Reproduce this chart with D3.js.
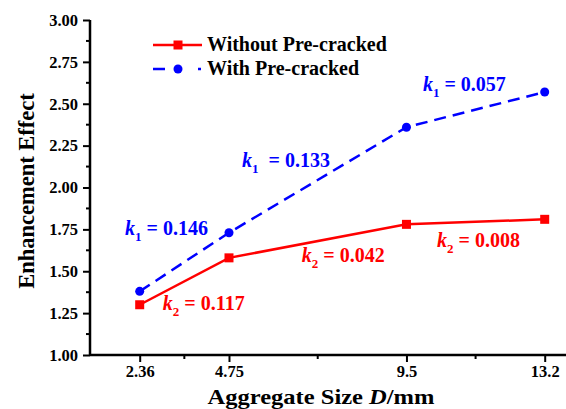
<!DOCTYPE html>
<html><head><meta charset="utf-8">
<script src="https://cdn.jsdelivr.net/npm/d3@7"></script>
<style>body{margin:0;background:#fff}svg{display:block}</style>
</head><body>
<svg id="c" width="566" height="409" font-family="Liberation Serif" font-weight="bold"></svg>
<script>
const sizes = [2.36, 4.75, 9.5, 13.2];
const withoutPre = [1.30, 1.58, 1.78, 1.81];
const withPre = [1.38, 1.73, 2.36, 2.57];
const xMinor = [3.555, 7.125, 11.35];
const yTicks = [1.00, 1.25, 1.50, 1.75, 2.00, 2.25, 2.50, 2.75, 3.00];
const seriesNames = ["Without Pre-cracked", "With Pre-cracked"];
const annotK1 = [{v:"0.146", x:1.97, y:1.716, sp:false},{v:"0.133", x:5.10, y:2.122, sp:true},{v:"0.057", x:9.94, y:2.576, sp:false}];
const annotK2 = [{v:"0.117", x:2.98, y:1.269, sp:false},{v:"0.042", x:6.70, y:1.555, sp:false},{v:"0.008", x:10.32, y:1.645, sp:false}];

const svg = d3.select("#c");
const L=90, T=20, B=355, R=566;
const x = d3.scaleLinear().domain([1.03, 13.77]).range([L, R]);
const y = d3.scaleLinear().domain([1, 3]).range([B, T]);
const RED="#ff0000", BLUE="#0000ff";
const FF="Liberation Serif";

const yAxis = d3.axisLeft(y).tickValues(yTicks).tickFormat(d3.format(".2f")).tickSize(7).tickPadding(5);
const gy = svg.append("g").attr("transform",`translate(${L},0)`).call(yAxis);
const yMinor = d3.range(1.125, 3, 0.25);
gy.selectAll(".minor").data(yMinor).enter().append("line").attr("class","minor")
  .attr("x1",0).attr("x2",-4).attr("y1",d=>y(d)).attr("y2",d=>y(d)).attr("stroke","#000").attr("stroke-width",2);
const xAxis = d3.axisBottom(x).tickValues(sizes).tickFormat(d=>String(d)).tickSize(7).tickPadding(3);
const gx = svg.append("g").attr("transform",`translate(0,${B})`).call(xAxis);
gx.selectAll(".minor").data(xMinor).enter().append("line").attr("class","minor")
  .attr("y1",0).attr("y2",4).attr("x1",d=>x(d)).attr("x2",d=>x(d)).attr("stroke","#000").attr("stroke-width",2);
[gx,gy].forEach(g=>{
  g.attr("font-family",FF).attr("font-size",16.5).attr("font-weight","bold");
  g.select(".domain").attr("stroke","#000").attr("stroke-width",2.5);
  g.selectAll(".tick line").attr("stroke","#000").attr("stroke-width",2);
  g.selectAll(".tick text").attr("fill","#000");
});
gx.select(".domain").attr("d",`M${L},0H${R}`);
gy.select(".domain").attr("d",`M0,${B}V${T}`);

const xt = svg.append("text").attr("x",321).attr("y",404).attr("text-anchor","middle").attr("font-size",21).attr("fill","#000")
  .attr("textLength",227).attr("lengthAdjust","spacingAndGlyphs");
xt.append("tspan").text("Aggregate Size ");
xt.append("tspan").attr("font-style","italic").text("D");
xt.append("tspan").text("/mm");
svg.append("text").attr("transform","translate(34,191) rotate(-90)").attr("text-anchor","middle").attr("font-size",22.5).attr("fill","#000")
  .text("Enhancement Effect");

const line = d3.line().x((d,i)=>x(sizes[i])).y(d=>y(d));
svg.append("path").datum(withoutPre).attr("d",line).attr("fill","none").attr("stroke",RED).attr("stroke-width",2.5);
svg.append("path").datum(withPre).attr("d",line).attr("fill","none").attr("stroke",BLUE).attr("stroke-width",2.5).attr("stroke-dasharray","12,7");
svg.selectAll(".sq").data(withoutPre).enter().append("rect")
  .attr("x",(d,i)=>x(sizes[i])-4.5).attr("y",d=>y(d)-4.5).attr("width",9).attr("height",9).attr("fill",RED);
svg.selectAll(".ci").data(withPre).enter().append("circle")
  .attr("cx",(d,i)=>x(sizes[i])).attr("cy",d=>y(d)).attr("r",4.5).attr("fill",BLUE);

const lg = svg.append("g");
lg.append("line").attr("x1",153).attr("x2",202).attr("y1",45).attr("y2",45).attr("stroke",RED).attr("stroke-width",2.5);
lg.append("rect").attr("x",173.5).attr("y",40.5).attr("width",9).attr("height",9).attr("fill",RED);
lg.append("line").attr("x1",153).attr("x2",201).attr("y1",69).attr("y2",69).attr("stroke",BLUE).attr("stroke-width",2.5).attr("stroke-dasharray","12,33,3,10");
lg.append("circle").attr("cx",178).attr("cy",69).attr("r",4.5).attr("fill",BLUE);
lg.append("text").attr("x",207).attr("y",51).attr("font-size",20).attr("fill","#000").text(seriesNames[0]);
lg.append("text").attr("x",207).attr("y",75).attr("font-size",20).attr("fill","#000").text(seriesNames[1]);

function annot(a, sub, color){
  const t = svg.append("text").attr("x",x(a.x)).attr("y",y(a.y)).attr("fill",color).attr("font-size",20).attr("xml:space","preserve");
  t.append("tspan").attr("font-style","italic").text("k");
  t.append("tspan").attr("dy",6).attr("font-size",13).text(sub);
  t.append("tspan").attr("dy",-6).text((a.sp?"  ":" ")+"= "+a.v);
}
annotK1.forEach(a=>annot(a,"1",BLUE));
annotK2.forEach(a=>annot(a,"2",RED));
</script>
</body></html>
